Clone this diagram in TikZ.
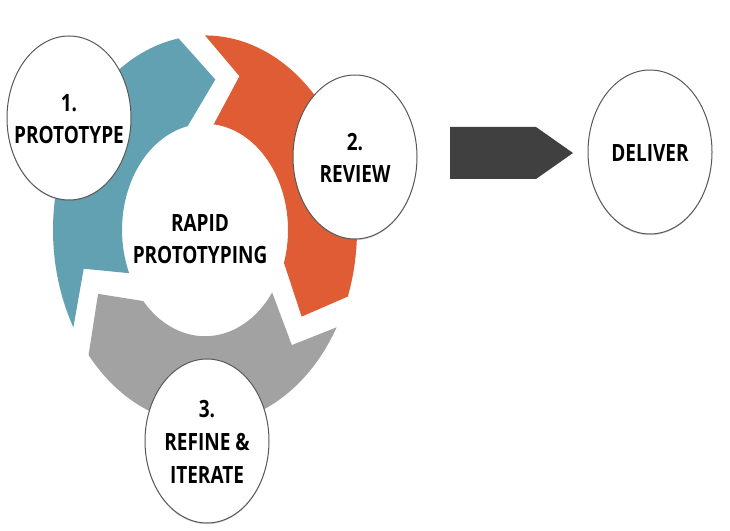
\documentclass[tikz,border=0pt]{standalone}
\usepackage{fontspec}
\setmainfont{Open Sans}
\usetikzlibrary{shapes.geometric,shadows}
\definecolor{cycleblue}{HTML}{62A1B1}
\definecolor{cycleorange}{HTML}{E05C34}
\definecolor{cyclegray}{HTML}{A2A2A2}
\definecolor{arrowdark}{HTML}{404040}
\def\ringpart[#1](#2:#3){\fill[#1] (#2:152) arc[start angle=#2, end angle=#3, radius=152] -- ({#3-15}:118) -- ({#3+2}:83) arc[start angle={#3+2}, end angle={#2-6}, radius=83] -- ({#2-16}:125) -- cycle;}
\def\lbl#1{\makebox[0pt]{\raisebox{-3pt}[\height][\depth]{\scalebox{1}[1.25]{\begin{tabular}{@{}c@{}}#1\end{tabular}}}}}

\begin{document}
\begin{tikzpicture}[x=1pt, y=1pt,
		phase/.style={ellipse, draw=black!65, line width=1pt, fill=white, minimum width=124pt, minimum height=164pt, inner sep=0pt, font=\fontsize{19}{26}\selectfont\bfseries, drop shadow={shadow xshift=0pt, shadow yshift=-1.2pt, opacity=0.35}},
		hubtext/.style={inner sep=0pt, font=\fontsize{19}{26}\selectfont\bfseries}]
			%%%%% START %%%%%
			\useasboundingbox (0, 0) rectangle (730, 530);
			
			\begin{scope}[shift={(205, 300)}, yscale=1.28]
				\ringpart[cycleblue](210:100)
				\ringpart[cycleorange](90:-20)
				\ringpart[cyclegray](-30:-140)
			\end{scope}
			
			\node[hubtext] (hub) at (200, 292) {\lbl{RAPID\\PROTOTYPING}};
			
			\node[phase] (proto) at (69, 412) {\lbl{1.\\PROTOTYPE}};
			\node[phase] (review) at (355, 373) {\lbl{2.\\REVIEW}};
			\node[phase] (refine) at (207, 89) {\lbl{3.\\REFINE \&\\ITERATE}};
			
			\fill[arrowdark] (450, 403) -- (536, 403) -- (573, 377) -- (536, 351) -- (450, 351) -- cycle;
			
			\node[phase] (deliver) at (650, 378) {\lbl{DELIVER}};
			
			%%%%% END %%%%%
		\end{tikzpicture}
\end{document}
